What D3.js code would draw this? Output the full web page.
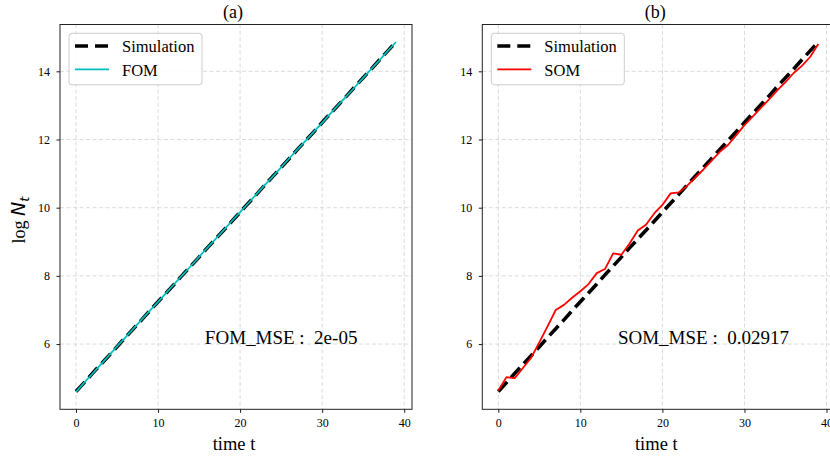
<!DOCTYPE html>
<html><head><meta charset="utf-8">
<script src="https://cdn.jsdelivr.net/npm/d3@7"></script>
<style>
body{margin:0;background:#fff}
svg text{font-family:"Liberation Serif","Times New Roman",serif;fill:#000}
</style>
</head><body>
<svg id="c" width="830" height="459" xmlns="http://www.w3.org/2000/svg"></svg>
<script>
// ---------- data ----------
const timeT = [0,1,2,3,4,5,6,7,8,9,10,11,12,13,14,15,16,17,18,19,20,21,22,23,24,25,26,27,28,29,30,31,32,33,34,35,36,37,38,39];
const simulation = [4.61,4.87,5.14,5.40,5.66,5.92,6.19,6.45,6.71,6.98,7.24,7.50,7.76,8.03,8.29,8.55,8.82,9.08,9.34,9.60,9.87,10.13,10.39,10.66,10.92,11.18,11.44,11.71,11.97,12.23,12.50,12.76,13.02,13.28,13.55,13.81,14.07,14.34,14.60,14.86];
const fom = [4.60,4.87,5.13,5.40,5.66,5.93,6.19,6.45,6.72,6.98,7.24,7.50,7.77,8.03,8.29,8.56,8.82,9.08,9.34,9.61,9.87,10.13,10.40,10.66,10.92,11.18,11.45,11.71,11.97,12.23,12.49,12.76,13.02,13.28,13.54,13.81,14.07,14.33,14.60,14.86];
const som = [4.64,5.03,5.00,5.30,5.60,6.05,6.52,7.00,7.15,7.36,7.55,7.76,8.08,8.20,8.66,8.62,8.95,9.33,9.50,9.83,10.08,10.42,10.45,10.64,10.88,11.12,11.38,11.64,11.84,12.13,12.42,12.67,12.93,13.18,13.44,13.68,13.95,14.16,14.42,14.80];
const xTicks = [0,10,20,30,40];
const yTicks = [6,8,10,12,14];
const panelTitles = ["(a)","(b)"];
const modelNames = ["FOM","SOM"];
const mseTexts = ["FOM_MSE :  2e-05","SOM_MSE :  0.02917"];
const xLabel = "time t";

// ---------- layout ----------
const SERIF = '"Liberation Serif","Times New Roman",serif';
const svg = d3.select("#c");
const plotTop = 24.5, plotBottom = 409.3;
const panels = [
  {x0:60, x1:412, model:fom, color:"#00bfbf"},
  {x0:482.3, x1:834.3, model:som, color:"#ff0000"}
];
const allY = simulation.concat(fom, som);
const yMin = d3.min(allY), yMax = d3.max(allY), yPad = (yMax-yMin)*0.05;
const xPad = (d3.max(timeT)-d3.min(timeT))*0.05;

panels.forEach((p,i)=>{
  const x = d3.scaleLinear().domain([d3.min(timeT)-xPad, d3.max(timeT)+xPad]).range([p.x0,p.x1]);
  const y = d3.scaleLinear().domain([yMin-yPad, yMax+yPad]).range([plotBottom, plotTop]);
  const g = svg.append("g");

  // grid
  g.append("g").selectAll("line").data(xTicks).join("line")
    .attr("x1",d=>x(d)).attr("x2",d=>x(d)).attr("y1",plotTop).attr("y2",plotBottom)
    .attr("stroke","#d0d0d0").attr("stroke-width",0.8).attr("stroke-dasharray","4,2.5");
  g.append("g").selectAll("line").data(yTicks).join("line")
    .attr("x1",p.x0).attr("x2",p.x1).attr("y1",d=>y(d)).attr("y2",d=>y(d))
    .attr("stroke","#d0d0d0").attr("stroke-width",0.8).attr("stroke-dasharray","4,2.5");

  // lines
  const line = d3.line().x((d,k)=>x(timeT[k])).y(d=>y(d));
  g.append("path").datum(simulation).attr("d",line).attr("fill","none")
    .attr("stroke","#000").attr("stroke-width",3.6).attr("stroke-dasharray","13,6");
  g.append("path").datum(p.model).attr("d",line).attr("fill","none")
    .attr("stroke",p.color).attr("stroke-width",1.8).attr("stroke-linejoin","round");

  // axes
  const xa = g.append("g").attr("transform",`translate(0,${plotBottom})`)
    .call(d3.axisBottom(x).tickValues(xTicks).tickSize(3.5).tickPadding(6));
  const ya = g.append("g").attr("transform",`translate(${p.x0},0)`)
    .call(d3.axisLeft(y).tickValues(yTicks).tickSize(3.5).tickPadding(6.5));
  [xa,ya].forEach(a=>{
    a.attr("font-family",null).attr("font-size",null);
    a.select(".domain").remove();
    a.selectAll("text").style("font-size","12px").style("font-family",SERIF);
    a.selectAll("line").attr("stroke","#000").attr("stroke-width",0.9);
  });

  // frame
  g.append("rect").attr("x",p.x0).attr("y",plotTop).attr("width",p.x1-p.x0).attr("height",plotBottom-plotTop)
    .attr("fill","none").attr("stroke","#222").attr("stroke-width",1);

  // title
  g.append("text").attr("x",(p.x0+p.x1)/2 - 3).attr("y",18).attr("text-anchor","middle")
    .style("font-size","18px").text(panelTitles[i]);
  // x label
  g.append("text").attr("x",(p.x0+p.x1)/2 - 2).attr("y",450).attr("text-anchor","middle")
    .style("font-size","18.5px").text(xLabel);

  // annotation
  g.append("text").attr("x",x(25)).attr("y",y(6)).attr("text-anchor","middle")
    .style("font-size","19px").style("white-space","pre").text(mseTexts[i]);

  // legend
  const lx = p.x0+9, ly = 33.3;
  const lg = g.append("g");
  lg.append("rect").attr("x",lx).attr("y",ly).attr("width",133).attr("height",51.5).attr("rx",3)
    .attr("fill","#fff").attr("fill-opacity",0.85).attr("stroke","#cccccc").attr("stroke-width",1);
  lg.append("line").attr("x1",lx+6).attr("x2",lx+40).attr("y1",ly+12.7).attr("y2",ly+12.7)
    .attr("stroke","#000").attr("stroke-width",3.6).attr("stroke-dasharray","13,7");
  lg.append("line").attr("x1",lx+6).attr("x2",lx+40).attr("y1",ly+36).attr("y2",ly+36)
    .attr("stroke",p.color).attr("stroke-width",1.8);
  lg.append("text").attr("x",lx+53).attr("y",ly+18.8).style("font-size","16.5px").text("Simulation");
  lg.append("text").attr("x",lx+53).attr("y",ly+42.3).style("font-size","16.5px").text(modelNames[i]);
});

// y label
const yl = svg.append("text").attr("transform","translate(25,220) rotate(-90)").attr("text-anchor","middle");
yl.append("tspan").style("font-size","18px").text("log ");
yl.append("tspan").style("font-size","19px").style("font-style","italic").style("font-family","DejaVu Sans").text("N");
yl.append("tspan").style("font-size","13px").style("font-style","italic").style("font-family","DejaVu Sans").attr("dy","4").text("t");
</script>
</body></html>
